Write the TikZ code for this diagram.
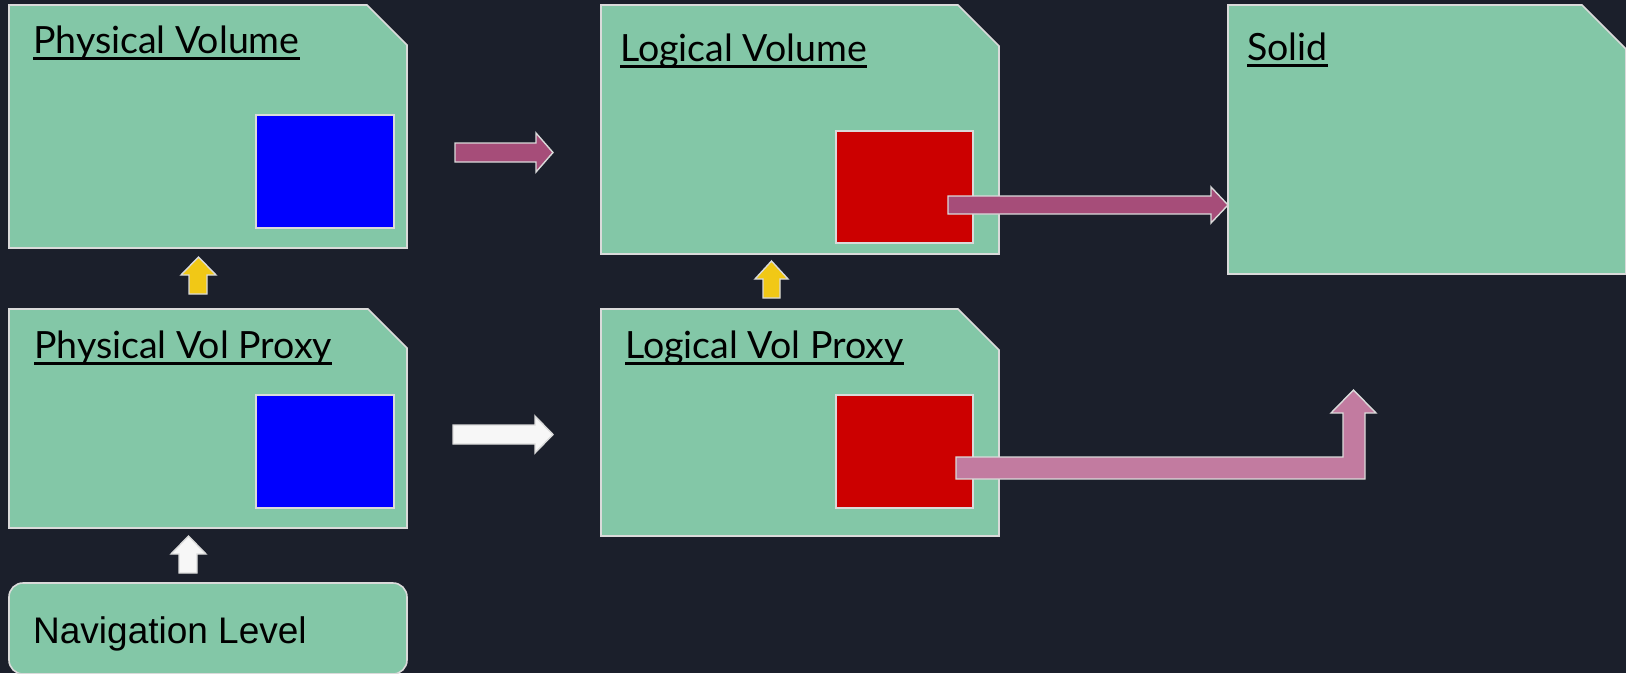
\documentclass[tikz,border=0pt]{standalone}
\usepackage{fontspec}
\setmainfont{Lato}
\newfontfamily\arialfont{Liberation Sans}
\definecolor{bgc}{HTML}{1B1F2B}
\definecolor{boxgreen}{HTML}{83C7A7}
\definecolor{edgegrey}{HTML}{DADADA}
\definecolor{sqblue}{HTML}{0000FF}
\definecolor{sqred}{HTML}{CC0000}
\definecolor{arrpurple}{HTML}{A64D79}
\definecolor{arrpink}{HTML}{C27BA0}
\definecolor{arryellow}{HTML}{F1C816}
\definecolor{arrwhite}{HTML}{F7F7F7}
\tikzset{
  boxshape/.style={fill=boxgreen,draw=edgegrey,line width=1.6pt},
  sqshape/.style={draw=edgegrey,line width=1.4pt},
  blockarrow/.style={draw=edgegrey,line width=1.4pt,line join=miter},
  title/.style={font=\fontsize{37.5}{42}\selectfont,inner sep=0pt,anchor=base west,text=black},
  ulined/.style={line width=3pt,black}
}
\begin{document}
\begin{tikzpicture}[x=1pt,y=-1pt]
\fill[bgc] (0,0) rectangle (1626,673);
\useasboundingbox (0,0) rectangle (1626,673);
% boxes
\draw[boxshape] (9,5) -- (367,5) -- (407,45) -- (407,248) -- (9,248) -- cycle;
\draw[boxshape] (9,309) -- (368,309) -- (407,348) -- (407,528) -- (9,528) -- cycle;
\draw[boxshape] (601,5) -- (958,5) -- (999,46) -- (999,254) -- (601,254) -- cycle;
\draw[boxshape] (601,309) -- (958,309) -- (999,350) -- (999,536) -- (601,536) -- cycle;
\draw[boxshape] (1228,5) -- (1582,5) -- (1626,49) -- (1626,274) -- (1228,274) -- cycle;
\draw[boxshape,rounded corners=14pt] (9,583) rectangle (407,674);
% squares
\draw[sqshape,fill=sqblue] (256,115) rectangle (394,228);
\draw[sqshape,fill=sqblue] (256,395) rectangle (394,508);
\draw[sqshape,fill=sqred] (836,131) rectangle (973,243);
\draw[sqshape,fill=sqred] (836,395) rectangle (973,508);
% titles
\node[title] (pvt) at (33,53) {Physical Volume};
\node[title] (lvt) at (620,61) {Logical Volume};
\node[title] (st) at (1247,60) {Solid};
\node[title] (pvpt) at (34,358) {Physical Vol Proxy};
\node[title] (lvpt) at (625,358) {Logical Vol Proxy};
\foreach \n in {pvt,lvt,st,pvpt,lvpt}{
  \draw[ulined] ([yshift=-5pt]\n.base west) -- ([yshift=-5pt]\n.base east);
}
\node[title,font=\arialfont\fontsize{37}{42}\selectfont] (nav) at (33,643) {Navigation Level};
% block arrows
\draw[blockarrow,fill=arrpurple] (455,143) -- (536,143) -- (536,133) -- (553,152.5) -- (536,172) -- (536,162) -- (455,162) -- cycle;
\draw[blockarrow,fill=arrwhite] (453,425) -- (535,425) -- (535,416) -- (553,434.5) -- (535,453) -- (535,444) -- (453,444) -- cycle;
\draw[blockarrow,fill=arrpurple] (948,196) -- (1211,196) -- (1211,187) -- (1228,205) -- (1211,223) -- (1211,214) -- (948,214) -- cycle;
\draw[blockarrow,fill=arrpink] (956,457) -- (1343,457) -- (1343,413) -- (1331,413) -- (1353.5,390) -- (1376,413) -- (1365,413) -- (1365,479) -- (956,479) -- cycle;
\draw[blockarrow,fill=arryellow] (189,294) -- (189,275) -- (181,275) -- (198.5,257) -- (216,275) -- (207,275) -- (207,294) -- cycle;
\draw[blockarrow,fill=arryellow] (763,298) -- (763,279) -- (755,279) -- (771.5,261) -- (788,279) -- (780,279) -- (780,298) -- cycle;
\draw[blockarrow,fill=arrwhite] (179,573) -- (179,554) -- (171,554) -- (188.5,536) -- (206,554) -- (197,554) -- (197,573) -- cycle;
\end{tikzpicture}
\end{document}
